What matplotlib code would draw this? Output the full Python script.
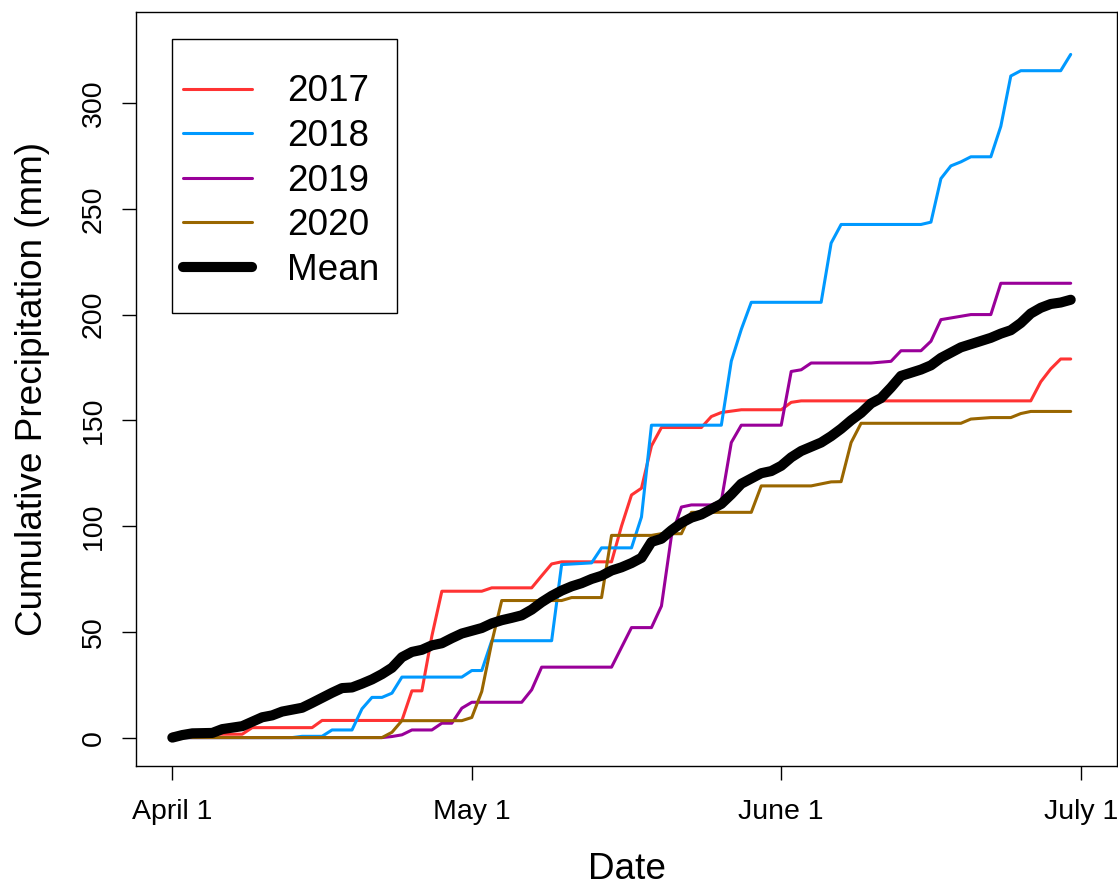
import numpy as np
import matplotlib.pyplot as plt
from matplotlib.patches import Rectangle

"""
Cumulative spring precipitation, April 1 to June 30.
x values are days after April 1, y values are mm.
"""

red_days = [0, 7, 8, 14, 15, 23, 24, 25, 26, 27, 31, 32, 36, 37, 38, 39, 44, 45, 46, 47,
            48, 49, 53, 54, 55, 57, 61, 62, 63, 86, 87, 88, 89, 90]
red_vals = [1.6, 1.6, 4.7, 4.7, 8.1, 8.1, 22.1, 22.1, 48, 69.2, 69.2, 70.8, 70.8, 76.5, 82.1,
            83.1, 83.1, 100, 114.7, 117.9, 137.9, 146.6, 146.6, 151.8, 153.7, 155, 155,
            158.5, 159.2, 159.2, 168.2, 174.3, 179, 179]

blue_days = [0, 12, 13, 15, 16, 18, 19, 20, 21, 22, 23, 29, 30, 31, 32, 38, 39, 42, 43, 46,
             47, 48, 55, 56, 57, 58, 65, 66, 67, 75, 76, 77, 78, 79, 80, 82, 83, 84, 85, 89, 90]
blue_vals = [0, 0, 0.6, 0.6, 3.6, 3.6, 13.6, 19, 19, 21, 28.6, 28.6, 31.7, 31.7, 45.8, 45.8,
             81.8, 82.6, 89.7, 89.7, 104.3, 147.7, 147.7, 178, 193, 205.8, 205.8, 233.8,
             242.6, 242.6, 243.7, 264.3, 270.3, 272.2, 274.6, 274.6, 289, 312.8, 315.3,
             315.3, 323]

purple_days = [0, 21, 22, 23, 24, 26, 27, 28, 29, 30, 35, 36, 37, 44, 46, 48, 49, 50, 51, 52,
               54, 55, 56, 57, 61, 62, 63, 64, 70, 72, 73, 75, 76, 77, 80, 82, 83, 90]
purple_vals = [0, 0, 0.5, 1.3, 3.6, 3.6, 6.8, 6.8, 13.9, 16.7, 16.7, 22.6, 33.3, 33.3, 52, 52,
               62.2, 95.3, 109, 110, 110, 111.8, 139.5, 147.7, 147.7, 173.1, 173.9, 177.1,
               177.1, 177.9, 182.9, 182.9, 187.4, 197.6, 200, 200, 214.8, 214.8]

brown_days = [0, 21, 22, 23, 29, 30, 31, 32, 33, 39, 40, 43, 44, 48, 49, 51, 52, 58, 59, 64,
              66, 67, 68, 69, 79, 80, 82, 84, 85, 86, 90]
brown_vals = [0, 0, 2.5, 8, 8, 9.5, 21.8, 45, 64.8, 64.8, 66.2, 66.2, 95.6, 95.6, 96.4, 96.4,
              106.5, 106.5, 119, 119, 120.9, 121, 139.5, 148.6, 148.6, 150.6, 151.3, 151.3,
              153.2, 154.2, 154.2]

# long-term daily mean, one value per day
mean_vals = [0, 1.2, 2, 2.1, 2.2, 4, 4.7, 5.4, 7.5, 9.6,
             10.5, 12.3, 13.2, 14.1, 16.4, 18.8, 21.2, 23.4, 23.7, 25.5,
             27.5, 30, 33, 38, 40.5, 41.5, 43.6, 44.6, 47, 49.2,
             50.5, 51.8, 54, 55.5, 56.6, 57.8, 60.5, 64, 67, 69.5,
             71.5, 73, 75, 76.5, 79, 80.5, 82.5, 85, 92.5, 94,
             98, 101.5, 104, 105.5, 108, 110.5, 115, 120, 122.5, 125,
             126, 128.5, 132.5, 135.5, 137.5, 139.5, 142.5, 146, 150, 153.5,
             158, 160.5, 165.5, 171, 172.5, 174, 176, 179.5, 182, 184.5,
             186, 187.5, 189, 191, 192.6, 196, 200.5, 203.2, 205, 205.7,
             207]

tick_days = [0, 30, 61, 91]
tick_labels = ["April 1", "May 1", "June 1", "July 1"]


def main():
    plt.rcParams['font.family'] = ['Liberation Sans', 'DejaVu Sans']

    fig = plt.figure(figsize=(11.18, 8.86), dpi=100)
    ax = fig.add_axes([0.12165, 0.1360, 0.87746, 0.8508])

    style = dict(lw=2.2, solid_capstyle='round', solid_joinstyle='round')
    ax.plot(red_days, red_vals, color='#FF3333', label='2017', **style)
    ax.plot(blue_days, blue_vals, color='#0099FF', label='2018', **style)
    ax.plot(purple_days, purple_vals, color='#990099', label='2019', **style)
    ax.plot(brown_days, brown_vals, color='#996600', label='2020', **style)
    ax.plot(np.arange(len(mean_vals)), mean_vals, color='black', lw=7.3,
            solid_capstyle='round', solid_joinstyle='round', label='Mean')

    ax.set_xlim(-3.64, 94.64)
    ax.set_ylim(-13.2, 343.2)
    ax.set_xticks(tick_days)
    ax.set_xticklabels(tick_labels)
    ax.set_yticks([0, 50, 100, 150, 200, 250, 300])

    ax.tick_params(axis='x', length=10, width=1, labelsize=20.5, pad=14)
    ax.tick_params(axis='y', length=10, width=1, labelsize=20.5, pad=11)
    plt.setp(ax.get_yticklabels(), rotation=90, va='center')
    for sp in ax.spines.values():
        sp.set_linewidth(1)

    ax.set_xlabel("Date", fontsize=26.6)
    ax.xaxis.set_label_coords(0.5, -0.115)
    ax.set_ylabel("Cumulative Precipitation (mm)", fontsize=26.6)
    ax.yaxis.set_label_coords(-0.0877, 0.5)

    # legend entries without their own frame; the box is drawn separately
    ax.legend(loc='upper left', bbox_to_anchor=(0.0367, 0.9314),
              borderaxespad=0, fontsize=26.6, frameon=False, borderpad=0.3,
              handlelength=1.87, handletextpad=0.95, labelspacing=0.26)
    ax.add_patch(Rectangle((0.0367, 0.6003), 0.2294, 0.3635, transform=ax.transAxes,
                           fill=False, edgecolor='black', lw=1, zorder=5))

    fig.savefig("out.png", dpi=100)


if __name__ == "__main__":
    main()
